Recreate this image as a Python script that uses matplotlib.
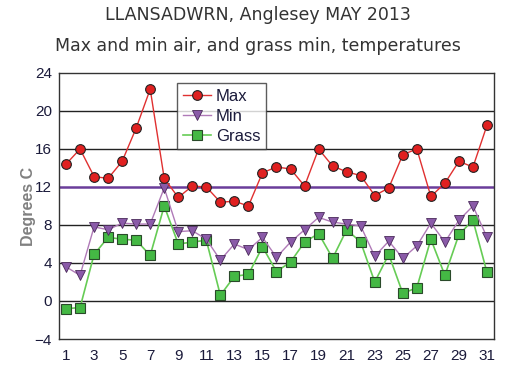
import matplotlib
matplotlib.use("Agg")
import matplotlib.pyplot as plt

days = list(range(1, 32))
t_max = [14.4, 16.0, 13.1, 12.9, 14.7, 18.2, 22.3, 12.9, 10.9, 12.1, 12.0, 10.4, 10.5, 10.0, 13.5, 14.1,
         13.9, 12.1, 16.0, 14.2, 13.6, 13.2, 11.1, 11.9, 15.4, 16.0, 11.0, 12.4, 14.7, 14.1, 18.5]
t_min = [3.6, 2.7, 7.8, 7.5, 8.2, 8.1, 8.1, 11.9, 7.3, 7.4, 6.5, 4.3, 6.0, 5.4, 6.7, 4.6,
         6.2, 7.5, 8.8, 8.3, 8.1, 7.9, 4.7, 6.3, 4.5, 5.8, 8.2, 6.2, 8.5, 10.0, 6.7]
t_grass = [-0.8, -0.7, 4.9, 6.7, 6.5, 6.4, 4.8, 10.0, 6.0, 6.2, 6.4, 0.6, 2.6, 2.8, 5.7, 3.1,
           4.1, 6.2, 7.1, 4.5, 7.5, 6.2, 2.0, 4.9, 0.8, 1.4, 6.5, 2.7, 7.0, 8.5, 3.0]
y_ticks = [-4, 0, 4, 8, 12, 16, 20, 24]
x_ticks = list(range(1, 32, 2))

plt.rcParams['font.family'] = ['Liberation Sans', 'DejaVu Sans']
fig = plt.figure(figsize=(5.16, 3.76), dpi=100)
ax = fig.add_axes([0.1143, 0.0984, 0.8431, 0.7075])

# grid lines, the 12 line in purple
for v in y_ticks[1:-1]:
    if v == 12:
        ax.axhline(v, color='#6a3d9a', lw=1.8, zorder=1)
    else:
        ax.axhline(v, color='#222222', lw=1.0, zorder=1)

ax.plot(days, t_grass, color='#66cc55', lw=1.2, marker='s', ms=7.5,
        mfc='#44b844', mec='#2a4a2a', mew=0.8, label='Grass', zorder=3)
ax.plot(days, t_min, color='#b07ab8', lw=1.0, marker='v', ms=7.5,
        mfc='#8a5aa8', mec='#4a2a5a', mew=0.6, label='Min', zorder=4)
ax.plot(days, t_max, color='#e03030', lw=1.0, marker='o', ms=7,
        mfc='#e02020', mec='#222222', mew=0.8, label='Max', zorder=5)

ax.set_xlim(0.5, 31.5)
ax.set_ylim(-4, 24)
ax.set_xticks(x_ticks)
ax.set_yticks(y_ticks)
ax.tick_params(length=0, labelsize=11, colors='#1a1a3a')
ax.tick_params(axis='y', pad=5)
ax.tick_params(axis='x', pad=7)
ax.set_ylabel('Degrees C', color='#808080', fontsize=11.5, fontweight='bold', labelpad=-1)
for s in ax.spines.values():
    s.set_color('#333333')
    s.set_linewidth(1.0)

h, l = ax.get_legend_handles_labels()
leg = ax.legend(h[::-1], l[::-1], loc='upper left', bbox_to_anchor=(0.272, 0.963),
                fontsize=12, frameon=True, fancybox=False, edgecolor='#333333',
                handlelength=1.7, borderpad=0.35, labelspacing=0.3, handletextpad=0.25,
                borderaxespad=0)
leg.get_frame().set_linewidth(1.0)
for t in leg.get_texts():
    t.set_color('#1a1a3a')

fig.text(0.5, 0.96, 'LLANSADWRN, Anglesey MAY 2013', ha='center', va='center',
         fontsize=12.5, color='#333333', family='DejaVu Sans')
fig.text(0.5, 0.877, 'Max and min air, and grass min, temperatures', ha='center', va='center',
         fontsize=12.5, color='#333333', family='DejaVu Sans')

fig.savefig('out.png', dpi=100)
